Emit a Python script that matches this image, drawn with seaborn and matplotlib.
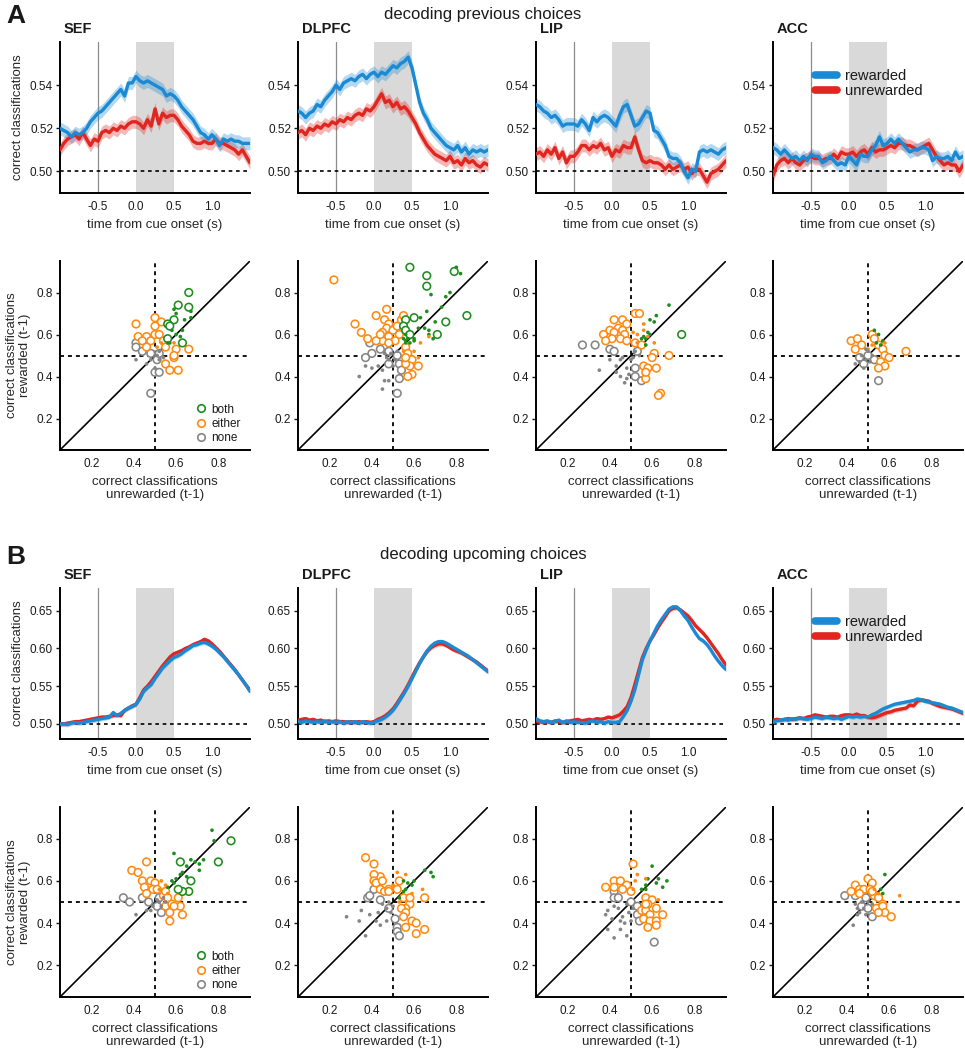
import numpy as np
import pandas as pd
import matplotlib
matplotlib.use("Agg")
import matplotlib.pyplot as plt
import seaborn as sns
from matplotlib.lines import Line2D

sns.set_style("ticks")
plt.rcParams['font.family'] = ['Liberation Sans', 'DejaVu Sans']
plt.rcParams['axes.edgecolor'] = 'black'
plt.rcParams['text.color'] = '#1a1a1a'
plt.rcParams['xtick.color'] = '#1a1a1a'
plt.rcParams['ytick.color'] = '#1a1a1a'

AREAS = ["SEF", "DLPFC", "LIP", "ACC"]
time_s = np.round(np.linspace(-1.0, 1.5, 51), 2)

# ---- decoding previous choices: mean correct classification over time ----
prev_rew_sef = [0.520, 0.519, 0.518, 0.516, 0.518, 0.517, 0.518, 0.520, 0.523, 0.525,
                0.527, 0.528, 0.530, 0.532, 0.534, 0.536, 0.538, 0.535, 0.541, 0.541,
                0.544, 0.542, 0.541, 0.542, 0.541, 0.540, 0.539, 0.538, 0.535, 0.536,
                0.535, 0.533, 0.530, 0.528, 0.526, 0.524, 0.521, 0.518, 0.517, 0.515,
                0.517, 0.515, 0.512, 0.515, 0.514, 0.515, 0.514, 0.514, 0.513, 0.513,
                0.513]
prev_unrew_sef = [0.510, 0.513, 0.515, 0.516, 0.517, 0.515, 0.518, 0.515, 0.512, 0.515,
                  0.514, 0.518, 0.519, 0.518, 0.520, 0.519, 0.521, 0.520, 0.522, 0.523,
                  0.523, 0.522, 0.520, 0.524, 0.521, 0.529, 0.522, 0.527, 0.525, 0.526,
                  0.526, 0.524, 0.521, 0.519, 0.517, 0.514, 0.513, 0.513, 0.514, 0.513,
                  0.513, 0.515, 0.513, 0.513, 0.512, 0.511, 0.510, 0.508, 0.510, 0.507,
                  0.504]
prev_rew_dlpfc = [0.528, 0.527, 0.525, 0.527, 0.528, 0.531, 0.530, 0.533, 0.535, 0.537,
                  0.540, 0.538, 0.541, 0.542, 0.543, 0.542, 0.544, 0.545, 0.543, 0.545,
                  0.546, 0.544, 0.546, 0.545, 0.547, 0.549, 0.548, 0.550, 0.551, 0.553,
                  0.548, 0.540, 0.532, 0.527, 0.524, 0.520, 0.518, 0.516, 0.514, 0.512,
                  0.511, 0.510, 0.512, 0.509, 0.511, 0.508, 0.510, 0.509, 0.510, 0.509,
                  0.510]
prev_unrew_dlpfc = [0.518, 0.519, 0.517, 0.520, 0.519, 0.521, 0.520, 0.522, 0.521, 0.523,
                    0.522, 0.524, 0.523, 0.525, 0.524, 0.526, 0.527, 0.526, 0.529, 0.528,
                    0.530, 0.533, 0.536, 0.532, 0.533, 0.530, 0.532, 0.529, 0.530, 0.528,
                    0.525, 0.522, 0.518, 0.515, 0.512, 0.510, 0.508, 0.507, 0.506, 0.505,
                    0.507, 0.504, 0.505, 0.503, 0.506, 0.504, 0.505, 0.503, 0.502, 0.504,
                    0.503]
prev_rew_lip = [0.531, 0.530, 0.528, 0.527, 0.525, 0.526, 0.524, 0.521, 0.522, 0.522,
                0.522, 0.521, 0.524, 0.522, 0.519, 0.525, 0.523, 0.525, 0.526, 0.525,
                0.523, 0.521, 0.526, 0.530, 0.531, 0.526, 0.521, 0.522, 0.525, 0.528,
                0.527, 0.519, 0.518, 0.515, 0.512, 0.507, 0.506, 0.506, 0.504, 0.500,
                0.497, 0.501, 0.500, 0.509, 0.510, 0.509, 0.510, 0.509, 0.508, 0.510,
                0.511]
prev_unrew_lip = [0.508, 0.509, 0.507, 0.510, 0.508, 0.511, 0.506, 0.509, 0.504, 0.507,
                  0.507, 0.509, 0.512, 0.512, 0.510, 0.512, 0.511, 0.513, 0.510, 0.511,
                  0.507, 0.510, 0.509, 0.512, 0.511, 0.511, 0.516, 0.510, 0.505, 0.504,
                  0.505, 0.504, 0.504, 0.503, 0.501, 0.503, 0.501, 0.502, 0.503, 0.501,
                  0.502, 0.499, 0.501, 0.501, 0.498, 0.495, 0.499, 0.500, 0.501, 0.503,
                  0.505]
prev_rew_acc = [0.511, 0.510, 0.508, 0.510, 0.508, 0.506, 0.507, 0.505, 0.507, 0.505,
                0.508, 0.507, 0.507, 0.504, 0.505, 0.507, 0.505, 0.503, 0.504, 0.503,
                0.507, 0.505, 0.503, 0.508, 0.507, 0.507, 0.510, 0.512, 0.516, 0.512,
                0.513, 0.515, 0.513, 0.515, 0.513, 0.511, 0.509, 0.510, 0.510, 0.511,
                0.511, 0.510, 0.505, 0.507, 0.506, 0.506, 0.507, 0.505, 0.509, 0.506,
                0.507]
prev_unrew_acc = [0.498, 0.503, 0.505, 0.506, 0.504, 0.506, 0.504, 0.503, 0.505, 0.506,
                  0.507, 0.506, 0.506, 0.505, 0.506, 0.506, 0.508, 0.506, 0.509, 0.508,
                  0.508, 0.509, 0.507, 0.509, 0.510, 0.508, 0.511, 0.509, 0.510, 0.510,
                  0.511, 0.512, 0.511, 0.513, 0.513, 0.512, 0.512, 0.511, 0.510, 0.511,
                  0.512, 0.513, 0.510, 0.507, 0.505, 0.503, 0.504, 0.503, 0.503, 0.500,
                  0.503]

# ---- decoding upcoming choices ----
next_rew_sef = [0.500, 0.500, 0.499, 0.501, 0.502, 0.501, 0.502, 0.503, 0.504, 0.505,
                0.506, 0.507, 0.508, 0.509, 0.515, 0.511, 0.514, 0.518, 0.521, 0.523,
                0.526, 0.533, 0.543, 0.548, 0.552, 0.560, 0.567, 0.574, 0.579, 0.584,
                0.588, 0.590, 0.593, 0.597, 0.600, 0.604, 0.605, 0.607, 0.608, 0.606,
                0.603, 0.599, 0.594, 0.589, 0.583, 0.577, 0.571, 0.565, 0.558, 0.551,
                0.543]
next_unrew_sef = [0.500, 0.500, 0.501, 0.502, 0.503, 0.503, 0.504, 0.505, 0.506, 0.507,
                  0.508, 0.509, 0.509, 0.510, 0.511, 0.512, 0.511, 0.518, 0.521, 0.524,
                  0.526, 0.535, 0.545, 0.550, 0.556, 0.563, 0.570, 0.577, 0.583, 0.589,
                  0.593, 0.595, 0.597, 0.600, 0.602, 0.605, 0.607, 0.609, 0.612, 0.610,
                  0.606, 0.601, 0.596, 0.590, 0.584, 0.578, 0.572, 0.565, 0.558, 0.551,
                  0.545]
next_rew_dlpfc = [0.503, 0.502, 0.504, 0.503, 0.502, 0.503, 0.502, 0.504, 0.502, 0.503,
                  0.502, 0.503, 0.501, 0.503, 0.502, 0.503, 0.501, 0.503, 0.502, 0.501,
                  0.502, 0.504, 0.506, 0.509, 0.513, 0.518, 0.525, 0.533, 0.541, 0.550,
                  0.560, 0.570, 0.580, 0.589, 0.597, 0.603, 0.607, 0.609, 0.609, 0.607,
                  0.604, 0.601, 0.598, 0.595, 0.592, 0.589, 0.585, 0.581, 0.577, 0.573,
                  0.569]
next_unrew_dlpfc = [0.505, 0.506, 0.507, 0.505, 0.506, 0.504, 0.505, 0.503, 0.504, 0.503,
                    0.504, 0.503, 0.503, 0.502, 0.503, 0.502, 0.503, 0.502, 0.503, 0.502,
                    0.503, 0.506, 0.508, 0.511, 0.515, 0.520, 0.527, 0.535, 0.543, 0.552,
                    0.562, 0.572, 0.581, 0.589, 0.596, 0.601, 0.604, 0.606, 0.606, 0.604,
                    0.601, 0.598, 0.596, 0.594, 0.591, 0.588, 0.585, 0.582, 0.578, 0.574,
                    0.570]
next_rew_lip = [0.507, 0.504, 0.503, 0.504, 0.502, 0.503, 0.505, 0.502, 0.504, 0.502,
                0.503, 0.502, 0.502, 0.501, 0.503, 0.504, 0.502, 0.503, 0.501, 0.503,
                0.502, 0.502, 0.503, 0.510, 0.518, 0.530, 0.545, 0.565, 0.585, 0.598,
                0.610, 0.620, 0.630, 0.638, 0.645, 0.652, 0.655, 0.655, 0.650, 0.643,
                0.637, 0.628, 0.620, 0.613, 0.610, 0.605, 0.598, 0.590, 0.583, 0.577,
                0.572]
next_unrew_lip = [0.504, 0.503, 0.502, 0.503, 0.502, 0.504, 0.503, 0.502, 0.503, 0.504,
                  0.505, 0.506, 0.504, 0.505, 0.506, 0.505, 0.507, 0.506, 0.507, 0.509,
                  0.508, 0.510, 0.512, 0.517, 0.523, 0.535, 0.552, 0.570, 0.588, 0.600,
                  0.610, 0.618, 0.627, 0.635, 0.642, 0.650, 0.653, 0.654, 0.651, 0.647,
                  0.643, 0.637, 0.630, 0.625, 0.620, 0.614, 0.607, 0.600, 0.593, 0.585,
                  0.578]
next_rew_acc = [0.502, 0.504, 0.505, 0.506, 0.505, 0.507, 0.506, 0.508, 0.507, 0.506,
                0.507, 0.509, 0.508, 0.507, 0.509, 0.508, 0.507, 0.508, 0.506, 0.508,
                0.510, 0.509, 0.510, 0.509, 0.510, 0.509, 0.512, 0.514, 0.517, 0.520,
                0.522, 0.524, 0.526, 0.527, 0.528, 0.529, 0.530, 0.531, 0.533, 0.532,
                0.530, 0.529, 0.528, 0.527, 0.526, 0.524, 0.522, 0.521, 0.519, 0.517,
                0.515]
next_unrew_acc = [0.505, 0.506, 0.505, 0.506, 0.507, 0.506, 0.507, 0.508, 0.507, 0.509,
                  0.510, 0.512, 0.511, 0.510, 0.509, 0.510, 0.510, 0.509, 0.511, 0.512,
                  0.512, 0.511, 0.513, 0.511, 0.511, 0.509, 0.508, 0.509, 0.511, 0.513,
                  0.515, 0.516, 0.518, 0.519, 0.520, 0.521, 0.525, 0.524, 0.530, 0.532,
                  0.531, 0.530, 0.527, 0.525, 0.523, 0.522, 0.521, 0.520, 0.518, 0.516,
                  0.514]
band_sem = 0.003

# ---- per-neuron scatter: (group, unrewarded, rewarded) ----
prev_sef_open = [("both", 0.66, 0.80), ("both", 0.61, 0.74), ("both", 0.66, 0.73), ("both", 0.59, 0.67),
                 ("both", 0.56, 0.65), ("both", 0.57, 0.64), ("both", 0.63, 0.56), ("both", 0.56, 0.58),
                 ("either", 0.41, 0.65), ("either", 0.50, 0.68), ("either", 0.53, 0.66), ("either", 0.50, 0.64),
                 ("either", 0.42, 0.59), ("either", 0.46, 0.59), ("either", 0.48, 0.57), ("either", 0.44, 0.57),
                 ("either", 0.46, 0.54), ("either", 0.50, 0.60), ("either", 0.52, 0.60), ("either", 0.54, 0.57),
                 ("either", 0.66, 0.53), ("either", 0.60, 0.53), ("either", 0.59, 0.49), ("either", 0.55, 0.46),
                 ("either", 0.57, 0.43), ("either", 0.61, 0.43), ("either", 0.59, 0.50), ("either", 0.55, 0.54),
                 ("none", 0.41, 0.56), ("none", 0.41, 0.54), ("none", 0.44, 0.52), ("none", 0.48, 0.51),
                 ("none", 0.51, 0.48), ("none", 0.50, 0.42), ("none", 0.52, 0.42), ("none", 0.48, 0.32),
                 ("none", 0.52, 0.51)]
prev_sef_dots = [("both", 0.59, 0.72), ("both", 0.60, 0.70), ("both", 0.67, 0.71), ("both", 0.67, 0.68),
                 ("both", 0.64, 0.67), ("both", 0.58, 0.62), ("both", 0.60, 0.60), ("both", 0.63, 0.62),
                 ("both", 0.56, 0.56), ("both", 0.57, 0.56), ("both", 0.62, 0.59),
                 ("either", 0.51, 0.54), ("either", 0.53, 0.56), ("either", 0.59, 0.56),
                 ("none", 0.41, 0.48), ("none", 0.46, 0.46), ("none", 0.48, 0.48), ("none", 0.51, 0.50),
                 ("none", 0.52, 0.48), ("none", 0.50, 0.44), ("none", 0.54, 0.49), ("none", 0.52, 0.52)]

prev_dlpfc_open = [("both", 0.58, 0.92), ("both", 0.66, 0.88), ("both", 0.66, 0.83), ("both", 0.79, 0.90),
                   ("both", 0.85, 0.69), ("both", 0.75, 0.66), ("both", 0.71, 0.60), ("both", 0.60, 0.68),
                   ("both", 0.56, 0.67), ("both", 0.55, 0.64), ("both", 0.56, 0.62), ("both", 0.58, 0.60),
                   ("either", 0.22, 0.86), ("either", 0.47, 0.72), ("either", 0.42, 0.69), ("either", 0.32, 0.65),
                   ("either", 0.35, 0.61), ("either", 0.38, 0.58), ("either", 0.46, 0.67), ("either", 0.48, 0.65),
                   ("either", 0.47, 0.63), ("either", 0.45, 0.61), ("either", 0.50, 0.62), ("either", 0.48, 0.59),
                   ("either", 0.45, 0.57), ("either", 0.42, 0.57), ("either", 0.44, 0.60), ("either", 0.52, 0.64),
                   ("either", 0.54, 0.67), ("either", 0.55, 0.69), ("either", 0.53, 0.60), ("either", 0.51, 0.57),
                   ("either", 0.48, 0.56), ("either", 0.56, 0.54), ("either", 0.57, 0.51), ("either", 0.59, 0.48),
                   ("either", 0.62, 0.45), ("either", 0.58, 0.45), ("either", 0.56, 0.46), ("either", 0.59, 0.41),
                   ("either", 0.57, 0.40), ("either", 0.56, 0.49),
                   ("none", 0.39, 0.56), ("none", 0.40, 0.51), ("none", 0.37, 0.49), ("none", 0.44, 0.53),
                   ("none", 0.48, 0.52), ("none", 0.48, 0.46), ("none", 0.53, 0.46), ("none", 0.54, 0.43),
                   ("none", 0.53, 0.39), ("none", 0.52, 0.32), ("none", 0.52, 0.50)]
prev_dlpfc_dots = [("both", 0.80, 0.92), ("both", 0.82, 0.89), ("both", 0.77, 0.80), ("both", 0.75, 0.78),
                   ("both", 0.68, 0.79), ("both", 0.73, 0.73), ("both", 0.66, 0.71), ("both", 0.63, 0.68),
                   ("both", 0.70, 0.66), ("both", 0.65, 0.63), ("both", 0.67, 0.62), ("both", 0.62, 0.63),
                   ("both", 0.60, 0.58), ("both", 0.56, 0.57), ("both", 0.56, 0.56), ("both", 0.58, 0.56),
                   ("both", 0.57, 0.58), ("both", 0.60, 0.57), ("both", 0.69, 0.58), ("both", 0.67, 0.60),
                   ("both", 0.55, 0.58), ("both", 0.56, 0.60),
                   ("either", 0.63, 0.56), ("either", 0.62, 0.49), ("either", 0.67, 0.59), ("either", 0.55, 0.52),
                   ("either", 0.60, 0.52),
                   ("none", 0.37, 0.45), ("none", 0.34, 0.40), ("none", 0.40, 0.44), ("none", 0.43, 0.45),
                   ("none", 0.46, 0.38), ("none", 0.48, 0.38), ("none", 0.45, 0.34), ("none", 0.45, 0.43),
                   ("none", 0.48, 0.48), ("none", 0.50, 0.45), ("none", 0.47, 0.49), ("none", 0.51, 0.48),
                   ("none", 0.49, 0.51), ("none", 0.52, 0.52), ("none", 0.46, 0.51)]

prev_lip_open = [("both", 0.74, 0.60),
                 ("either", 0.52, 0.70), ("either", 0.54, 0.70), ("either", 0.42, 0.67), ("either", 0.46, 0.67),
                 ("either", 0.48, 0.65), ("either", 0.40, 0.62), ("either", 0.44, 0.63), ("either", 0.42, 0.61),
                 ("either", 0.46, 0.62), ("either", 0.47, 0.60), ("either", 0.37, 0.60), ("either", 0.41, 0.58),
                 ("either", 0.45, 0.58), ("either", 0.48, 0.57), ("either", 0.38, 0.57), ("either", 0.52, 0.56),
                 ("either", 0.55, 0.55), ("either", 0.61, 0.51), ("either", 0.68, 0.50), ("either", 0.60, 0.49),
                 ("either", 0.56, 0.45), ("either", 0.58, 0.44), ("either", 0.62, 0.44), ("either", 0.57, 0.39),
                 ("either", 0.64, 0.32), ("either", 0.63, 0.31), ("either", 0.57, 0.42),
                 ("none", 0.27, 0.55), ("none", 0.33, 0.55), ("none", 0.40, 0.53), ("none", 0.42, 0.52),
                 ("none", 0.52, 0.44), ("none", 0.52, 0.40), ("none", 0.55, 0.38), ("none", 0.53, 0.52)]
prev_lip_dots = [("both", 0.68, 0.74), ("both", 0.62, 0.69), ("both", 0.59, 0.67), ("both", 0.61, 0.66),
                 ("both", 0.58, 0.61), ("both", 0.59, 0.60), ("both", 0.56, 0.59), ("both", 0.55, 0.58),
                 ("both", 0.57, 0.55), ("both", 0.57, 0.58),
                 ("either", 0.56, 0.65), ("either", 0.51, 0.61), ("either", 0.53, 0.60), ("either", 0.58, 0.59),
                 ("either", 0.61, 0.56), ("either", 0.53, 0.56), ("either", 0.56, 0.62),
                 ("none", 0.35, 0.43), ("none", 0.40, 0.48), ("none", 0.43, 0.45), ("none", 0.45, 0.48),
                 ("none", 0.43, 0.42), ("none", 0.47, 0.37), ("none", 0.48, 0.39), ("none", 0.49, 0.41),
                 ("none", 0.46, 0.49), ("none", 0.50, 0.48), ("none", 0.51, 0.49), ("none", 0.52, 0.52),
                 ("none", 0.54, 0.50), ("none", 0.48, 0.44), ("none", 0.45, 0.40)]

prev_acc_open = [("either", 0.42, 0.57), ("either", 0.45, 0.58), ("either", 0.47, 0.55), ("either", 0.44, 0.53),
                 ("either", 0.55, 0.55), ("either", 0.57, 0.53), ("either", 0.58, 0.50), ("either", 0.56, 0.47),
                 ("either", 0.58, 0.45), ("either", 0.55, 0.44), ("either", 0.60, 0.49), ("either", 0.68, 0.52),
                 ("either", 0.52, 0.60), ("either", 0.53, 0.58),
                 ("none", 0.46, 0.49), ("none", 0.48, 0.46), ("none", 0.55, 0.38), ("none", 0.50, 0.50),
                 ("none", 0.53, 0.48)]
prev_acc_dots = [("both", 0.53, 0.62), ("both", 0.55, 0.60), ("both", 0.57, 0.57), ("both", 0.54, 0.56),
                 ("both", 0.56, 0.55),
                 ("either", 0.52, 0.55), ("either", 0.50, 0.53), ("either", 0.58, 0.56),
                 ("none", 0.47, 0.50), ("none", 0.49, 0.48), ("none", 0.51, 0.47), ("none", 0.50, 0.52),
                 ("none", 0.48, 0.44), ("none", 0.46, 0.47), ("none", 0.52, 0.50), ("none", 0.49, 0.53),
                 ("none", 0.44, 0.46)]

next_sef_open = [("both", 0.86, 0.79), ("both", 0.80, 0.69), ("both", 0.62, 0.69), ("both", 0.67, 0.60),
                 ("both", 0.66, 0.55), ("both", 0.63, 0.55), ("both", 0.61, 0.56),
                 ("either", 0.46, 0.69), ("either", 0.39, 0.65), ("either", 0.42, 0.64), ("either", 0.44, 0.60),
                 ("either", 0.48, 0.60), ("either", 0.50, 0.59), ("either", 0.45, 0.57), ("either", 0.49, 0.56),
                 ("either", 0.46, 0.54), ("either", 0.51, 0.56), ("either", 0.54, 0.53), ("either", 0.55, 0.55),
                 ("either", 0.56, 0.52), ("either", 0.55, 0.48), ("either", 0.58, 0.49), ("either", 0.61, 0.52),
                 ("either", 0.62, 0.48), ("either", 0.59, 0.48), ("either", 0.57, 0.45), ("either", 0.63, 0.44),
                 ("either", 0.57, 0.41),
                 ("none", 0.35, 0.52), ("none", 0.38, 0.50), ("none", 0.44, 0.52), ("none", 0.47, 0.50),
                 ("none", 0.51, 0.48), ("none", 0.53, 0.45), ("none", 0.52, 0.52)]
next_sef_dots = [("both", 0.77, 0.84), ("both", 0.78, 0.79), ("both", 0.59, 0.73), ("both", 0.67, 0.70),
                 ("both", 0.71, 0.68), ("both", 0.71, 0.65), ("both", 0.69, 0.69), ("both", 0.65, 0.67),
                 ("both", 0.63, 0.64), ("both", 0.62, 0.63), ("both", 0.60, 0.61), ("both", 0.58, 0.60),
                 ("both", 0.56, 0.57), ("both", 0.59, 0.59), ("both", 0.73, 0.70), ("both", 0.65, 0.62),
                 ("either", 0.53, 0.60), ("either", 0.55, 0.58), ("either", 0.52, 0.56), ("either", 0.56, 0.54),
                 ("none", 0.41, 0.44), ("none", 0.46, 0.46), ("none", 0.49, 0.48), ("none", 0.52, 0.50),
                 ("none", 0.54, 0.52), ("none", 0.51, 0.51), ("none", 0.53, 0.48), ("none", 0.48, 0.46),
                 ("none", 0.55, 0.50)]

next_dlpfc_open = [("either", 0.37, 0.71), ("either", 0.41, 0.68), ("either", 0.44, 0.62), ("either", 0.41, 0.63),
                   ("either", 0.41, 0.60), ("either", 0.42, 0.59), ("either", 0.45, 0.60), ("either", 0.44, 0.56),
                   ("either", 0.46, 0.55), ("either", 0.48, 0.56), ("either", 0.48, 0.55), ("either", 0.53, 0.60),
                   ("either", 0.52, 0.56), ("either", 0.55, 0.52), ("either", 0.58, 0.49), ("either", 0.56, 0.47),
                   ("either", 0.54, 0.47), ("either", 0.56, 0.45), ("either", 0.55, 0.43), ("either", 0.59, 0.41),
                   ("either", 0.56, 0.38), ("either", 0.61, 0.40), ("either", 0.65, 0.37), ("either", 0.61, 0.35),
                   ("either", 0.65, 0.52), ("either", 0.58, 0.52),
                   ("none", 0.38, 0.52), ("none", 0.39, 0.53), ("none", 0.41, 0.56), ("none", 0.44, 0.51),
                   ("none", 0.51, 0.42), ("none", 0.52, 0.38), ("none", 0.52, 0.36), ("none", 0.53, 0.34),
                   ("none", 0.48, 0.47)]
next_dlpfc_dots = [("both", 0.65, 0.65), ("both", 0.69, 0.62), ("both", 0.68, 0.64), ("both", 0.55, 0.60),
                   ("both", 0.57, 0.59), ("both", 0.59, 0.58), ("both", 0.60, 0.60), ("both", 0.56, 0.56),
                   ("both", 0.55, 0.55), ("both", 0.53, 0.52),
                   ("either", 0.52, 0.64), ("either", 0.56, 0.63), ("either", 0.64, 0.56), ("either", 0.59, 0.54),
                   ("either", 0.53, 0.50), ("either", 0.50, 0.58),
                   ("none", 0.28, 0.43), ("none", 0.35, 0.46), ("none", 0.34, 0.41), ("none", 0.37, 0.34),
                   ("none", 0.39, 0.44), ("none", 0.43, 0.45), ("none", 0.44, 0.39), ("none", 0.47, 0.47),
                   ("none", 0.48, 0.50), ("none", 0.49, 0.45), ("none", 0.47, 0.41), ("none", 0.42, 0.41),
                   ("none", 0.50, 0.48), ("none", 0.45, 0.49)]

next_lip_open = [("either", 0.51, 0.68), ("either", 0.38, 0.57), ("either", 0.42, 0.60), ("either", 0.45, 0.60),
                 ("either", 0.42, 0.57), ("either", 0.48, 0.58), ("either", 0.46, 0.56), ("either", 0.50, 0.55),
                 ("either", 0.57, 0.52), ("either", 0.60, 0.51), ("either", 0.58, 0.49), ("either", 0.62, 0.47),
                 ("either", 0.55, 0.46), ("either", 0.57, 0.46), ("either", 0.59, 0.44), ("either", 0.65, 0.44),
                 ("either", 0.56, 0.42), ("either", 0.59, 0.41), ("either", 0.62, 0.41), ("either", 0.62, 0.39),
                 ("either", 0.58, 0.38), ("either", 0.57, 0.49),
                 ("none", 0.42, 0.55), ("none", 0.42, 0.52), ("none", 0.44, 0.52), ("none", 0.50, 0.50),
                 ("none", 0.53, 0.44), ("none", 0.54, 0.41), ("none", 0.61, 0.31), ("none", 0.53, 0.48)]
next_lip_dots = [("both", 0.60, 0.67), ("both", 0.63, 0.61), ("both", 0.67, 0.60), ("both", 0.65, 0.57),
                 ("both", 0.62, 0.59), ("both", 0.58, 0.61), ("both", 0.57, 0.58), ("both", 0.55, 0.56),
                 ("both", 0.57, 0.56),
                 ("either", 0.53, 0.63), ("either", 0.57, 0.61), ("either", 0.51, 0.56), ("either", 0.52, 0.60),
                 ("either", 0.63, 0.51),
                 ("none", 0.39, 0.46), ("none", 0.38, 0.44), ("none", 0.39, 0.37), ("none", 0.42, 0.33),
                 ("none", 0.45, 0.37), ("none", 0.48, 0.34), ("none", 0.42, 0.48), ("none", 0.44, 0.47),
                 ("none", 0.46, 0.43), ("none", 0.49, 0.45), ("none", 0.50, 0.41), ("none", 0.45, 0.41),
                 ("none", 0.51, 0.47), ("none", 0.48, 0.49), ("none", 0.41, 0.42), ("none", 0.47, 0.40)]

next_acc_open = [("either", 0.50, 0.61), ("either", 0.52, 0.59), ("either", 0.44, 0.58), ("either", 0.46, 0.56),
                 ("either", 0.42, 0.55), ("either", 0.48, 0.56), ("either", 0.51, 0.56), ("either", 0.53, 0.53),
                 ("either", 0.55, 0.52), ("either", 0.57, 0.49), ("either", 0.54, 0.47), ("either", 0.57, 0.48),
                 ("either", 0.58, 0.45), ("either", 0.55, 0.45), ("either", 0.61, 0.43), ("either", 0.52, 0.55),
                 ("either", 0.46, 0.54),
                 ("none", 0.39, 0.53), ("none", 0.44, 0.53), ("none", 0.52, 0.43), ("none", 0.47, 0.48),
                 ("none", 0.49, 0.52), ("none", 0.50, 0.47)]
next_acc_dots = [("both", 0.58, 0.63), ("both", 0.56, 0.56), ("both", 0.57, 0.54),
                 ("either", 0.65, 0.53), ("either", 0.53, 0.56), ("either", 0.55, 0.54),
                 ("none", 0.43, 0.39), ("none", 0.45, 0.44), ("none", 0.46, 0.45), ("none", 0.48, 0.47),
                 ("none", 0.50, 0.50), ("none", 0.47, 0.50), ("none", 0.45, 0.47), ("none", 0.52, 0.49),
                 ("none", 0.49, 0.44), ("none", 0.44, 0.49)]

BLUE = "#1a8ad4"
RED = "#e0261f"
GROUP_COL = {"both": "#1e8c1e", "either": "#ff8a12", "none": "#858585"}
GROUP_ORDER = ["none", "either", "both"]

W, H = 965, 1050
fig = plt.figure(figsize=(W / 100, H / 100), dpi=100)
lefts = [60, 298, 536, 773]
AX_W = 190


def add_ax(left, top, height):
    return fig.add_axes([left / W, 1 - (top + height) / H, AX_W / W, height / H])


def style_ax(ax):
    sns.despine(ax=ax)
    for s in ("left", "bottom"):
        ax.spines[s].set_linewidth(1.4)
    ax.tick_params(axis="y", length=3, width=1, labelsize=8.5, pad=2)
    ax.tick_params(axis="x", length=0, labelsize=8.5, pad=6)


def time_panel(ax, rew, unrew, ylim, yticks, ylabels, first, legend):
    ax.axvspan(0, 0.5, color="#d9d9d9", lw=0, zorder=0)
    ax.axvline(-0.5, color="#8c8c8c", lw=0.9, zorder=1)
    ax.axhline(0.5, color="black", lw=1.2, ls=(0, (2.2, 2.2)), zorder=1)
    for vals, col in ((unrew, RED), (rew, BLUE)):
        v = np.array(vals)
        ax.fill_between(time_s, v - band_sem, v + band_sem, color=col, alpha=0.33, lw=0, zorder=2)
    df = pd.DataFrame({"time": np.concatenate([time_s, time_s]),
                       "acc": unrew + rew,
                       "outcome": ["unrewarded"] * len(time_s) + ["rewarded"] * len(time_s)})
    sns.lineplot(data=df, x="time", y="acc", hue="outcome", hue_order=["unrewarded", "rewarded"],
                 palette={"rewarded": BLUE, "unrewarded": RED}, estimator=None, lw=2.4,
                 legend=False, ax=ax, zorder=3)
    ax.set_xlim(-1.0, 1.5)
    ax.set_ylim(*ylim)
    ax.set_xticks([-0.5, 0, 0.5, 1.0], ["-0.5", "0.0", "0.5", "1.0"])
    ax.set_yticks(yticks, ylabels)
    ax.set_xlabel("time from cue onset (s)", fontsize=9.5, labelpad=4)
    ax.set_ylabel("correct classifications" if first else "", fontsize=9.5, labelpad=4)
    style_ax(ax)
    if legend:
        handles = [Line2D([], [], color=BLUE, lw=5.5), Line2D([], [], color=RED, lw=5.5)]
        ax.legend(handles, ["rewarded", "unrewarded"], loc="upper left", bbox_to_anchor=(0.22, 0.82),
                  frameon=False, fontsize=10.5, handlelength=1.55, handletextpad=0.5,
                  labelspacing=0.05, borderpad=0, borderaxespad=0)


def scatter_panel(ax, open_pts, dot_pts, first, legend):
    ax.plot([0.05, 0.95], [0.05, 0.95], color="black", lw=1.2, zorder=1)
    ax.axvline(0.5, color="black", lw=1.3, ls=(0, (2.2, 2.2)), zorder=1)
    ax.axhline(0.5, color="black", lw=1.3, ls=(0, (2.2, 2.2)), zorder=1)
    op = pd.DataFrame(open_pts, columns=["group", "unrew", "rew"])
    op["order"] = op["group"].map(GROUP_ORDER.index)
    op = op.sort_values("order", kind="stable")
    sns.scatterplot(data=op, x="unrew", y="rew", hue="group", palette=GROUP_COL, s=30,
                    linewidth=1.15, legend=False, ax=ax, zorder=3)
    coll = ax.collections[-1]
    coll.set_edgecolors(coll.get_facecolors())
    coll.set_facecolors("white")
    dt = pd.DataFrame(dot_pts, columns=["group", "unrew", "rew"])
    sns.scatterplot(data=dt, x="unrew", y="rew", hue="group", palette=GROUP_COL, s=7,
                    linewidth=0, legend=False, ax=ax, zorder=4)
    ax.set_xlim(0.05, 0.95)
    ax.set_ylim(0.05, 0.95)
    ticks = [0.2, 0.4, 0.6, 0.8]
    ax.set_xticks(ticks, ["0.2", "0.4", "0.6", "0.8"])
    ax.set_yticks(ticks, ["0.2", "0.4", "0.6", "0.8"])
    ax.set_xlabel("correct classifications\nunrewarded (t-1)", fontsize=9.5, labelpad=4, linespacing=1.15)
    ax.set_ylabel("correct classifications\nrewarded (t-1)" if first else "", fontsize=9.5,
                  labelpad=4, linespacing=1.15)
    style_ax(ax)
    if legend:
        handles = [Line2D([], [], ls="", marker="o", ms=5.4, mfc="white", mec=GROUP_COL[g], mew=1.2)
                   for g in ["both", "either", "none"]]
        ax.legend(handles, ["both", "either", "none"], loc="lower left", bbox_to_anchor=(0.71, 0.03),
                  frameon=False, fontsize=8.5, handlelength=1.0, handletextpad=0.4,
                  labelspacing=0.2, borderpad=0, borderaxespad=0)


prev_rew = [prev_rew_sef, prev_rew_dlpfc, prev_rew_lip, prev_rew_acc]
prev_unrew = [prev_unrew_sef, prev_unrew_dlpfc, prev_unrew_lip, prev_unrew_acc]
next_rew = [next_rew_sef, next_rew_dlpfc, next_rew_lip, next_rew_acc]
next_unrew = [next_unrew_sef, next_unrew_dlpfc, next_unrew_lip, next_unrew_acc]
prev_open = [prev_sef_open, prev_dlpfc_open, prev_lip_open, prev_acc_open]
prev_dots = [prev_sef_dots, prev_dlpfc_dots, prev_lip_dots, prev_acc_dots]
next_open = [next_sef_open, next_dlpfc_open, next_lip_open, next_acc_open]
next_dots = [next_sef_dots, next_dlpfc_dots, next_lip_dots, next_acc_dots]

for i, area in enumerate(AREAS):
    left = lefts[i]
    # row A
    ax = add_ax(left, 42, 151)
    time_panel(ax, prev_rew[i], prev_unrew[i], (0.49, 0.56), [0.50, 0.52, 0.54],
               ["0.50", "0.52", "0.54"], i == 0, i == 3)
    fig.text((left + 4) / W, 1 - 29 / H, area, fontsize=10.5, fontweight="bold", va="center", ha="left")
    ax = add_ax(left, 261, 189)
    scatter_panel(ax, prev_open[i], prev_dots[i], i == 0, i == 0)
    # row B
    ax = add_ax(left, 588, 151)
    time_panel(ax, next_rew[i], next_unrew[i], (0.48, 0.68), [0.50, 0.55, 0.60, 0.65],
               ["0.50", "0.55", "0.60", "0.65"], i == 0, i == 3)
    fig.text((left + 4) / W, 1 - 575 / H, area, fontsize=10.5, fontweight="bold", va="center", ha="left")
    ax = add_ax(left, 807, 190)
    scatter_panel(ax, next_open[i], next_dots[i], i == 0, i == 0)

fig.text(483 / W, 1 - 14 / H, "decoding previous choices", fontsize=12, ha="center", va="center")
fig.text(483 / W, 1 - 555 / H, "decoding upcoming choices", fontsize=12, ha="center", va="center")
fig.text(16 / W, 1 - 16 / H, "A", fontsize=19, fontweight="bold", ha="center", va="center")
fig.text(16 / W, 1 - 557 / H, "B", fontsize=19, fontweight="bold", ha="center", va="center")

fig.savefig("out.png", dpi=100)
